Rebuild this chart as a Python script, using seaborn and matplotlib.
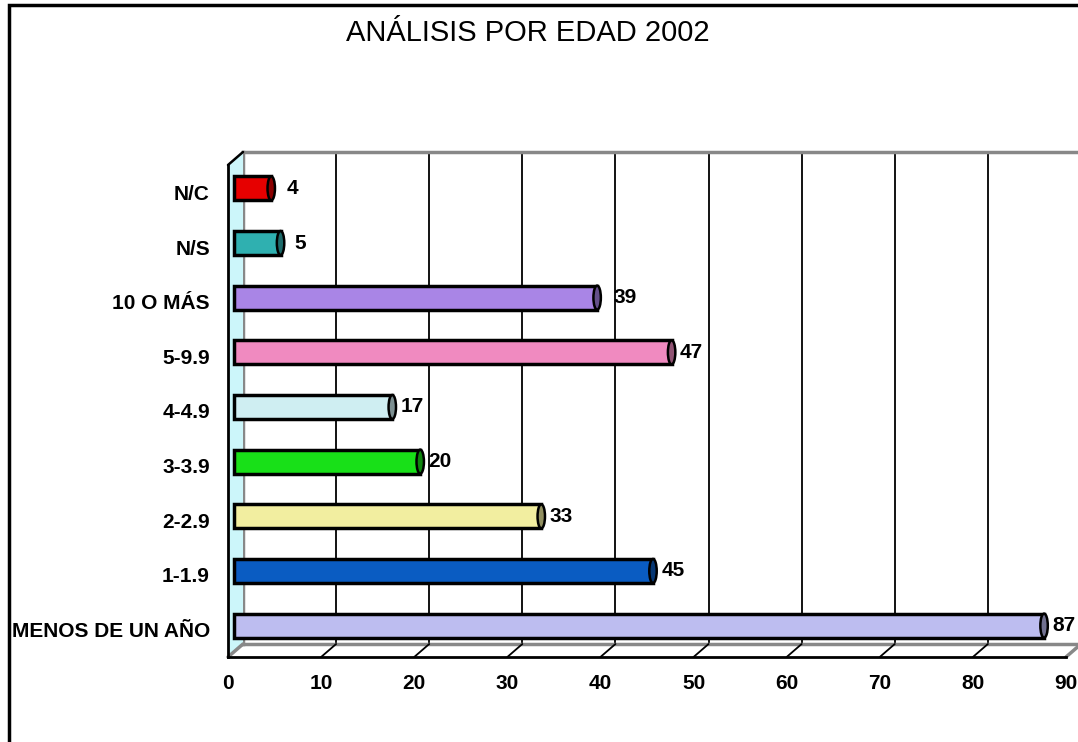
import numpy as np
import pandas as pd
import matplotlib
matplotlib.use("Agg")
import matplotlib.pyplot as plt
import seaborn as sns
from matplotlib.patches import Polygon, Rectangle, Ellipse
from matplotlib.transforms import ScaledTranslation, blended_transform_factory
import matplotlib.colors as mcolors

# ---- data (top to bottom as shown) ----
categories = ["N/C", "N/S", "10 O MÁS", "5-9.9", "4-4.9", "3-3.9", "2-2.9", "1-1.9", "MENOS DE UN AÑO"]
values = [4, 5, 39, 47, 17, 20, 33, 45, 87]
bar_colors = ["#e60000", "#2fb0b0", "#a985e6", "#f08ac0", "#cfeef2",
              "#18e018", "#f2eea0", "#0a5cc2", "#bdbdf0"]
x_ticks = [0, 10, 20, 30, 40, 50, 60, 70, 80, 90]
title = "ANÁLISIS POR EDAD 2002"

sns.set_style("white")
plt.rcParams["font.family"] = ["Liberation Sans", "DejaVu Sans"]
plt.rcParams["text.color"] = "black"
plt.rcParams["xtick.color"] = "black"
plt.rcParams["ytick.color"] = "black"
plt.rcParams["xtick.labelcolor"] = "black"
plt.rcParams["ytick.labelcolor"] = "black"

W, H = 1078, 742
fig = plt.figure(figsize=(W / 100, H / 100), dpi=100)

# depth offset of the pseudo-3D back plane (pixels)
DX, DY = 15, 13
ax_w, ax_h = 838, 492
front = [228 / W, 85 / H, ax_w / W, ax_h / H]
back = [(228 + DX) / W, (85 + DY) / H, ax_w / W, ax_h / H]

# figure border
fig.patches.append(Rectangle((9 / W, -0.05), 1.2, 1.05 - 5 / H, transform=fig.transFigure,
                             fill=False, edgecolor="black", linewidth=2.5))

# ---- back wall with gridlines ----
axb = fig.add_axes(back)
axb.set_xlim(0, 90)
axb.set_ylim(0, 1)
axb.set_xticks(x_ticks[1:])
axb.set_yticks([])
axb.tick_params(length=0, labelbottom=False)
axb.grid(axis="x", color="black", linewidth=1.3)
axb.set_facecolor("white")
for s in ["top", "left", "bottom"]:
    axb.spines[s].set_visible(True)
    axb.spines[s].set_color("#888888")
    axb.spines[s].set_linewidth(2.5)
axb.spines["right"].set_visible(False)

# ---- front axes with bars ----
ax = fig.add_axes(front)
ax.patch.set_alpha(0)
df = pd.DataFrame({"cat": categories, "val": values})
sns.barplot(data=df, x="val", y="cat", hue="cat", palette=bar_colors, orient="h",
            ax=ax, legend=False, edgecolor="black", linewidth=2.5, width=0.44,
            saturation=1, order=categories, hue_order=categories)
ax.set_xlim(0, 90)
ax.set_ylim(8.5, -0.5)
ax.set_xlabel("")
ax.set_ylabel("")

shift = ScaledTranslation(6 / 100, 4 / 100, fig.dpi_scale_trans)
for p in ax.patches:
    p.set_transform(ax.transData + shift)

# label gap after each bar end (data units)
label_gap = [1.6, 1.5, 1.8, 0.9, 0.9, 0.9, 0.9, 0.9, 0.9]

# bar end caps (cylinder look)
for i, (v, c) in enumerate(zip(values, bar_colors)):
    dark = tuple(np.array(mcolors.to_rgb(c)) * 0.6)
    e = Ellipse((v, i), width=0.8, height=0.44, facecolor=dark, edgecolor="black",
                linewidth=1.8, transform=ax.transData + shift, zorder=5)
    ax.add_patch(e)
    ax.text(v + label_gap[i], i, str(v), transform=ax.transData + shift, ha="left", va="center",
            fontsize=15, fontweight="bold", color="black", zorder=6)

# axes styling
ax.set_xticks(x_ticks)
ax.set_xticklabels([str(t) for t in x_ticks], fontsize=15, fontweight="bold")
ax.set_yticks(range(len(categories)))
ax.set_yticklabels(categories, fontsize=15, fontweight="bold")
ax.set_yticks(np.arange(-0.5, len(categories), 1), minor=True)
ax.tick_params(axis="y", which="major", length=0, pad=13, labelcolor="black")
ax.tick_params(axis="y", which="minor", length=10, width=1.5, color="black", direction="out")
ax.tick_params(axis="x", which="major", length=9, width=1.5, color="black", direction="out",
               pad=3, labelcolor="black")
for s in ["top", "right"]:
    ax.spines[s].set_visible(False)
for s in ["left", "bottom"]:
    ax.spines[s].set_visible(True)
    ax.spines[s].set_color("black")
    ax.spines[s].set_linewidth(2)

# pseudo-3D left wall, floor lines
fx = DX / ax_w
fy = DY / ax_h
wall = Polygon([(0, 0), (0, 1), (fx, 1 + fy), (fx, fy)], closed=True, transform=ax.transAxes,
               facecolor="#ccf6fa", edgecolor="none", clip_on=False, zorder=0.5)
ax.add_patch(wall)
ax.plot([0, fx], [1, 1 + fy], transform=ax.transAxes, color="black", lw=1.8, clip_on=False)
ax.plot([0, fx], [0, fy], transform=ax.transAxes, color="#888888", lw=2.5, clip_on=False)
ax.plot([1, 1 + fx], [0, fy], transform=ax.transAxes, color="#888888", lw=2.5, clip_on=False)
bt = blended_transform_factory(ax.transData, ax.transAxes)
dxd = DX / ax_w * 90
for t in x_ticks[1:-1]:
    ax.plot([t, t + dxd], [0, fy], transform=bt, color="black", lw=1.3, clip_on=False)

fig.text(528 / W, 1 - 33 / H, title, ha="center", va="center", fontsize=21, color="black")

fig.savefig("out.png", dpi=100)
